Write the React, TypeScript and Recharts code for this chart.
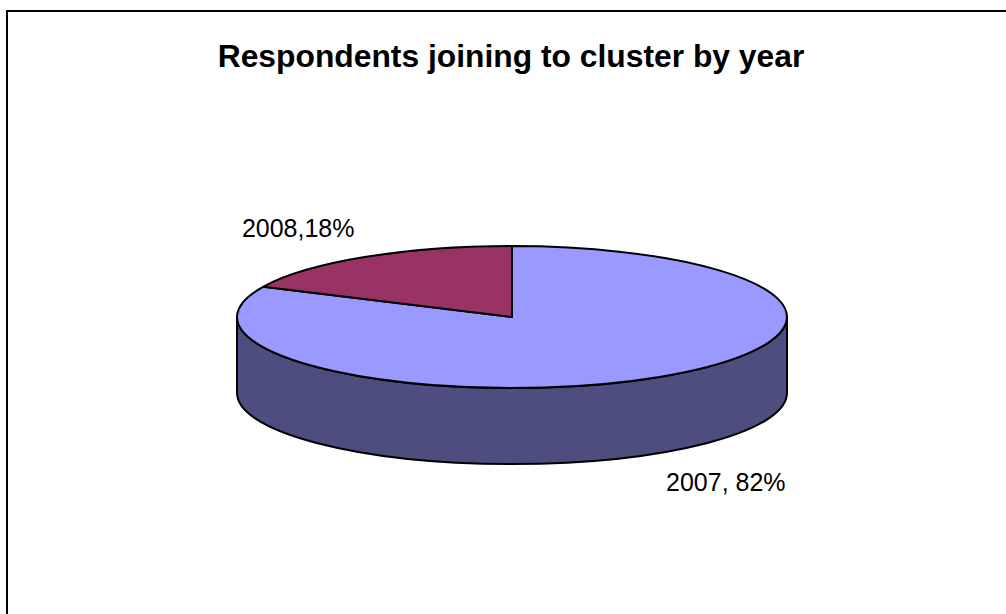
import React from 'react';
import { PieChart, Pie } from 'recharts';

// ── Data ──────────────────────────────────────────────────────
const years = ['2007', '2008'];
const shares = [82, 18];
const sliceLabels = ['2007, 82%', '2008,18%'];
const topColors = ['#9999FF', '#993366'];
const sideColors = ['#4D4D80', '#4D1A33'];

const data = years.map((name, i) => ({ name, value: shares[i] }));

// ── 3D look ───────────────────────────────────────────────────
const TILT = 0.258;   // ry / rx
const DEPTH = 76;     // wall height in px
const RAD = Math.PI / 180;
const FONT = '"Liberation Sans", Arial, sans-serif';

function ellipsePt(cx: number, cy: number, rx: number, ry: number, a: number, dy = 0) {
  return [cx + rx * Math.cos(a * RAD), cy - ry * Math.sin(a * RAD) + dy];
}

// parts of [lo, hi] that lie on the front (lower) half of the ellipse
function frontRanges(lo: number, hi: number) {
  const out: [number, number][] = [];
  for (let k = -2; k <= 2; k++) {
    const a = Math.max(lo, -180 + 360 * k);
    const b = Math.min(hi, 360 * k);
    if (b > a) out.push([a, b]);
  }
  return out;
}

function Slice3D(props: any) {
  const { cx, cy, outerRadius, startAngle, endAngle, midAngle, index } = props;
  const rx = outerRadius;
  const ry = outerRadius * TILT;

  const [x0, y0] = ellipsePt(cx, cy, rx, ry, startAngle);
  const [x1, y1] = ellipsePt(cx, cy, rx, ry, endAngle);
  const delta = endAngle - startAngle;
  const large = Math.abs(delta) > 180 ? 1 : 0;
  const sweep = delta < 0 ? 1 : 0;
  const top = `M${cx},${cy} L${x0},${y0} A${rx},${ry} 0 ${large} ${sweep} ${x1},${y1} Z`;

  const walls = frontRanges(Math.min(startAngle, endAngle), Math.max(startAngle, endAngle)).map(([a, b]) => {
    const [xa, ya] = ellipsePt(cx, cy, rx, ry, a);
    const [xb, yb] = ellipsePt(cx, cy, rx, ry, b);
    return `M${xa},${ya} A${rx},${ry} 0 0 0 ${xb},${yb} L${xb},${yb + DEPTH} A${rx},${ry} 0 0 1 ${xa},${ya + DEPTH} Z`;
  });

  const s = Math.sin(midAngle * RAD);
  const lx = cx + (rx + 124) * Math.cos(midAngle * RAD);
  const ly = cy - (ry + 35) * s + (s < 0 ? DEPTH : 0);

  return (
    <g>
      {walls.map((d, i) => (
        <path key={i} d={d} fill={sideColors[index]} stroke="#000" strokeWidth={2} strokeLinejoin="round" />
      ))}
      <path d={top} fill={topColors[index]} stroke="#000" strokeWidth={2} strokeLinejoin="round" />
      <text x={lx} y={ly} textAnchor="middle" dominantBaseline="central" fontFamily={FONT} fontSize={25} fill="#000">
        {sliceLabels[index]}
      </text>
    </g>
  );
}

export default function App() {
  return (
    <div style={{ position: 'absolute', left: 0, top: 0, width: 1006, height: 614, overflow: 'hidden', background: '#fff' }}>
      <div style={{ position: 'absolute', left: 6, top: 10, width: 1100, height: 700, borderLeft: '2px solid #000', borderTop: '2px solid #000' }} />
      <svg width={1006} height={100} style={{ position: 'absolute', left: 0, top: 0 }}>
        <text x={511} y={67} textAnchor="middle" fontFamily={FONT} fontWeight="bold" fontSize={31.8} fill="#000">
          Respondents joining to cluster by year
        </text>
      </svg>
      <div style={{ position: 'absolute', left: 0, top: 0 }}>
        <PieChart width={1006} height={614} margin={{ top: 0, right: 0, bottom: 0, left: 0 }}>
          <Pie
            data={data}
            dataKey="value"
            nameKey="name"
            cx={512}
            cy={317}
            outerRadius={275}
            startAngle={90}
            endAngle={-270}
            fill="none"
            stroke="none"
            labelLine={false}
            label={Slice3D}
            isAnimationActive={false}
          />
        </PieChart>
      </div>
    </div>
  );
}
